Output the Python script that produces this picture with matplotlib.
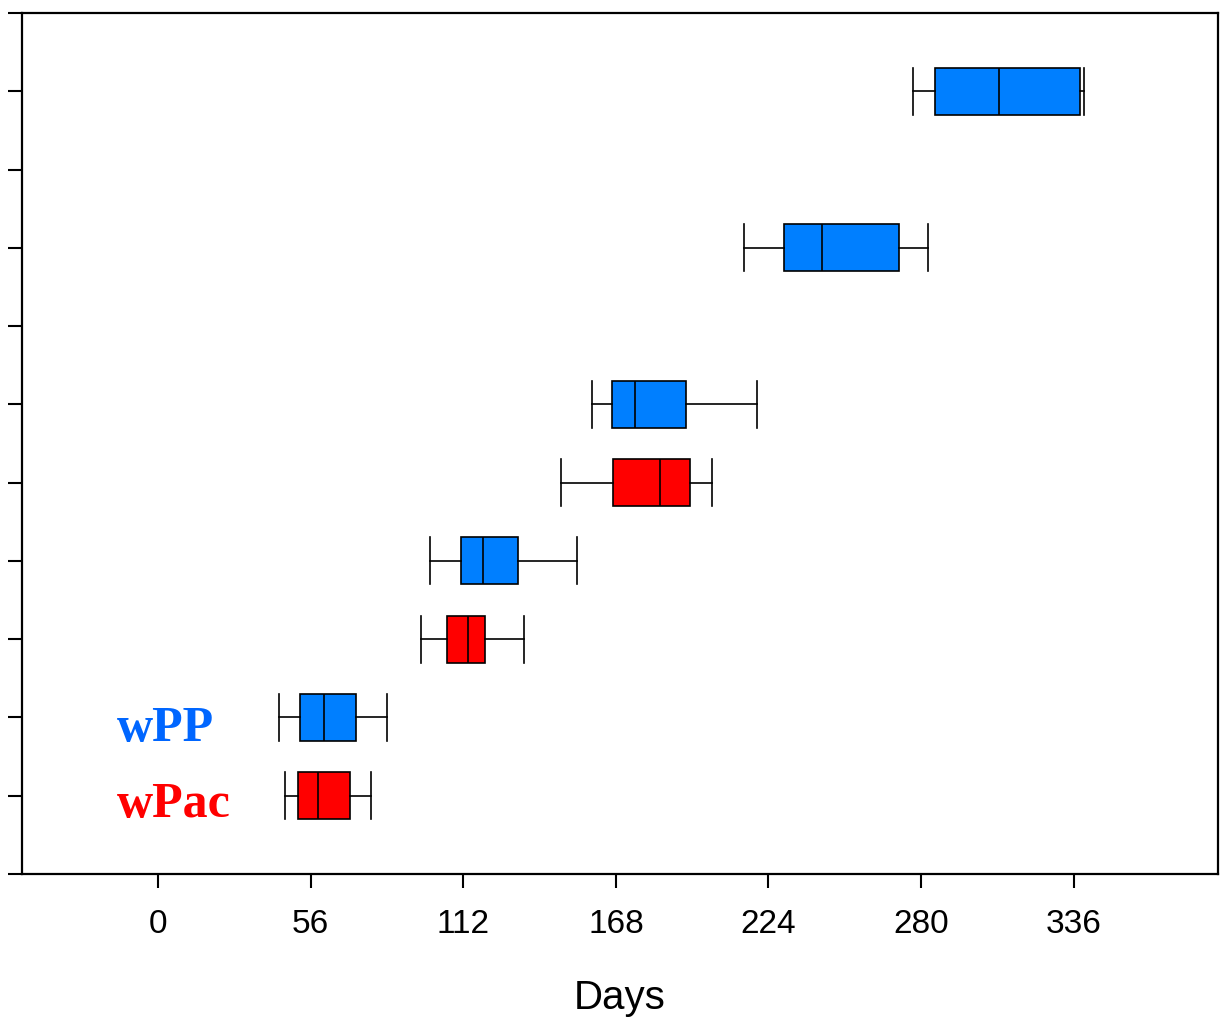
import numpy as np
import matplotlib.pyplot as plt

rows = [1, 2, 3, 4, 5, 6, 8, 10]
groups = ['wPac', 'wPP', 'wPac', 'wPP', 'wPac', 'wPP', 'wPP', 'wPP']
whislo = [46.4, 44.5, 96.5, 99.8, 147.7, 159.4, 215.1, 277.0]
q1 = [51.2, 52.1, 105.9, 111.0, 166.9, 166.4, 229.8, 285.2]
med = [58.8, 60.8, 113.7, 119.1, 184.1, 175.1, 243.8, 308.7]
q3 = [70.4, 72.5, 119.9, 132.2, 195.1, 193.6, 271.9, 338.2]
whishi = [78.1, 84.1, 134.1, 153.6, 203.1, 219.7, 282.7, 339.7]
xticks = [0, 56, 112, 168, 224, 280, 336]

colors = {'wPac': '#ff0000', 'wPP': '#007fff'}
text_colors = {'wPac': '#ff0000', 'wPP': '#0066ff'}

fig = plt.figure(figsize=(12.2, 10.18), dpi=100)
ax = fig.add_axes([0.018, 0.1415, 0.9804, 0.8457])

stats = []
for i in range(len(rows)):
    stats.append(dict(whislo=whislo[i], q1=q1[i], med=med[i], q3=q3[i],
                      whishi=whishi[i], fliers=[]))

w = 0.6
bp = ax.bxp(stats, positions=rows, widths=w, capwidths=w, vert=False,
            patch_artist=True, showfliers=False,
            boxprops=dict(linewidth=1.2, edgecolor='black'),
            medianprops=dict(color='black', linewidth=1.2),
            whiskerprops=dict(color='black', linewidth=1.2),
            capprops=dict(color='black', linewidth=1.2))
for patch, g in zip(bp['boxes'], groups):
    patch.set_facecolor(colors[g])

ax.set_xlim(-50, 389)
ax.set_ylim(0, 11)
ax.set_yticks(range(12))
ax.set_yticklabels([])
ax.set_xticks(xticks)
ax.set_xticklabels([str(t) for t in xticks], fontsize=24, family='Liberation Sans')
ax.tick_params(axis='both', direction='out', length=10, width=1.5)
ax.tick_params(axis='x', pad=15)
for s in ax.spines.values():
    s.set_linewidth(1.6)
ax.set_xlabel('Days', fontsize=29, family='Liberation Sans', labelpad=28)

ax.text(-15, 1.70, 'wPP', color=text_colors['wPP'], fontsize=36,
        family='Liberation Serif', fontweight='bold', ha='left', va='baseline')
ax.text(-15, 0.73, 'wPac', color=text_colors['wPac'], fontsize=36,
        family='Liberation Serif', fontweight='bold', ha='left', va='baseline')

fig.savefig('out.png', dpi=100)
